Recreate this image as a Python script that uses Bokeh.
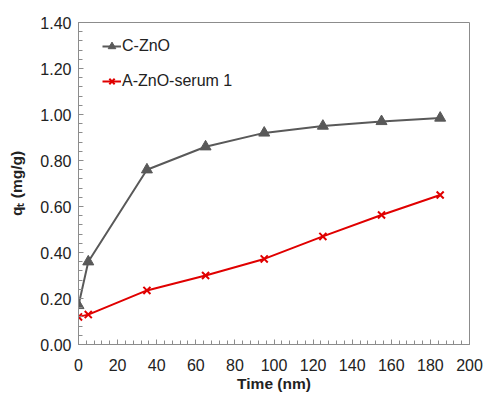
from bokeh.plotting import figure
from bokeh.models import Range1d, FixedTicker, NumeralTickFormatter, Legend, LegendItem
from bokeh.embed import file_html
from bokeh.resources import INLINE

time = [0, 5, 35, 65, 95, 125, 155, 185]
c_zno = [0.17, 0.36, 0.76, 0.86, 0.92, 0.95, 0.97, 0.985]
a_zno_serum1 = [0.12, 0.13, 0.235, 0.30, 0.372, 0.47, 0.563, 0.65]
series_names = ["C-ZnO", "A-ZnO-serum 1"]
x_ticks = [0, 20, 40, 60, 80, 100, 120, 140, 160, 180, 200]
y_ticks = [0.0, 0.2, 0.4, 0.6, 0.8, 1.0, 1.2, 1.4]
x_title = "Time (nm)"
y_title = "qₜ (mg/g)"

FONT = "Liberation Sans"
GRAY = "#595959"
RED = "#E00000"

p = figure(width=483, height=394, output_backend="svg", toolbar_location=None,
           x_range=Range1d(0, 200), y_range=Range1d(0, 1.4),
           min_border_left=78, min_border_right=14, min_border_top=22, min_border_bottom=49)
p.xgrid.visible = False
p.ygrid.visible = False
p.outline_line_color = "#8c8c8c"
p.outline_line_width = 1

x_minor = [i * 4 for i in range(51)]
y_minor = [round(i * 0.04, 2) for i in range(36)]
p.xaxis.ticker = FixedTicker(ticks=x_ticks, minor_ticks=x_minor)
p.yaxis.ticker = FixedTicker(ticks=y_ticks, minor_ticks=y_minor)
p.yaxis.formatter = NumeralTickFormatter(format="0.00")

for ax in (p.xaxis[0], p.yaxis[0]):
    ax.axis_line_color = "#8c8c8c"
    ax.major_tick_line_color = "#8c8c8c"
    ax.minor_tick_line_color = "#8c8c8c"
    ax.major_tick_in = 5
    ax.major_tick_out = 0
    ax.minor_tick_in = 4
    ax.minor_tick_out = 0
    ax.major_label_text_font = FONT
    ax.major_label_text_font_size = "16px"
    ax.major_label_text_color = "#222222"
    ax.axis_label_text_font = FONT
    ax.axis_label_text_font_size = "15.5px"
    ax.axis_label_text_font_style = "bold"
    ax.axis_label_text_color = "#222222"

p.xaxis.axis_label = x_title
p.yaxis.axis_label = y_title
p.xaxis.major_label_standoff = 14
p.xaxis.axis_label_standoff = 1
p.yaxis.major_label_standoff = 7
p.yaxis.axis_label_standoff = 12

l1 = p.line(time, c_zno, line_color=GRAY, line_width=2)
m1 = p.scatter(time, c_zno, marker="triangle", size=11, fill_color=GRAY, line_color=GRAY)
l2 = p.line(time, a_zno_serum1, line_color=RED, line_width=2)
m2 = p.scatter(time, a_zno_serum1, marker="x", size=10, line_color=RED, line_width=2)

legend = Legend(items=[LegendItem(label=series_names[0], renderers=[l1, m1]),
                       LegendItem(label=series_names[1], renderers=[l2, m2])],
                location=(24, 253))
legend.border_line_color = None
legend.background_fill_alpha = 0
legend.label_text_font = FONT
legend.label_text_font_size = "16px"
legend.label_text_color = "#222222"
legend.glyph_width = 19
legend.glyph_height = 20
legend.label_standoff = 1
legend.spacing = 15
legend.padding = 0
legend.margin = 0
p.add_layout(legend)

open("out.html", "w").write(file_html(p, INLINE))
